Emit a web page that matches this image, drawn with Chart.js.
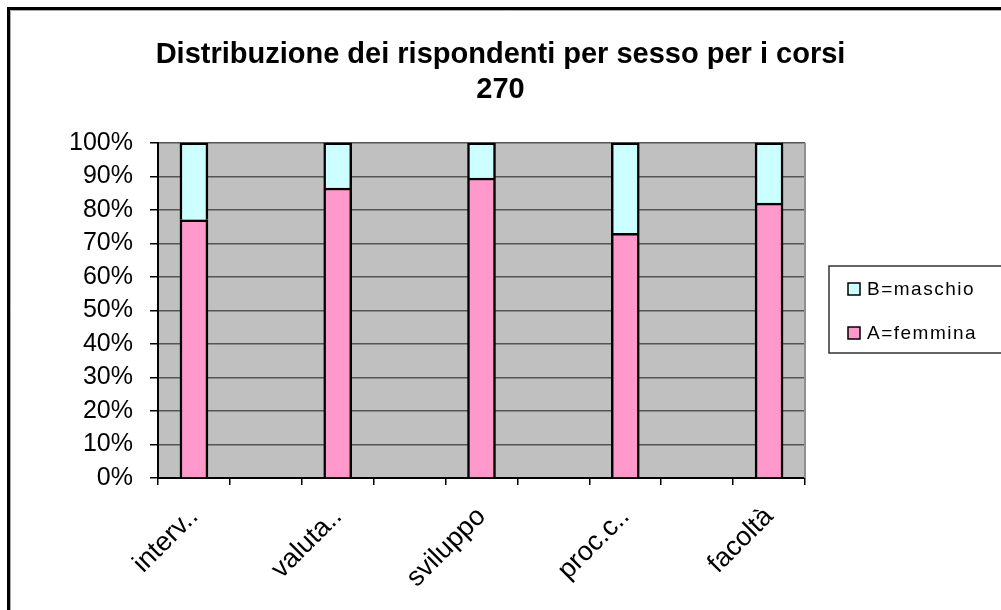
<!DOCTYPE html>
<html>
<head>
<meta charset="utf-8">
<script src="https://cdn.jsdelivr.net/npm/chart.js@4"></script>
<style>
  html, body { margin: 0; background: #fff; }
  #wrap { position: relative; width: 1001px; height: 610px; }
</style>
</head>
<body>
<div id="wrap"><canvas id="myChart"></canvas></div>
<script>
// data (percent of respondents)
const categories = ['interv..', '', 'valuta..', '', 'sviluppo', '', 'proc.c..', '', 'facoltà'];
const femmina = [77, null, 86.5, null, 89.5, null, 73, null, 82];
const maschio = [23, null, 13.5, null, 10.5, null, 27, null, 18];
const titleLines = ['Distribuzione dei rispondenti per sesso per i corsi', '270'];
const seriesNames = ['A=femmina', 'B=maschio'];
const seriesColors = ['#FF99CC', '#CCFFFF'];

const FONT = "'Liberation Sans', Arial, sans-serif";

// frame, grey plot background and excel-like legend box
const excelLook = {
  id: 'excelLook',
  beforeDraw(chart) {
    const c = chart.ctx, a = chart.chartArea;
    c.save();
    c.fillStyle = '#fff';
    c.fillRect(0, 0, chart.width, chart.height);
    c.fillStyle = '#C0C0C0';
    c.fillRect(a.left, a.top, a.right - a.left, a.bottom - a.top);
    // outer frame (only top and left visible)
    c.strokeStyle = '#000';
    c.lineWidth = 3;
    c.beginPath();
    c.moveTo(8.5, chart.height);
    c.lineTo(8.5, 8.5);
    c.lineTo(chart.width, 8.5);
    c.stroke();
    c.strokeStyle = '#aaa';
    c.lineWidth = 1;
    c.beginPath();
    c.moveTo(10.5, chart.height);
    c.lineTo(10.5, 10.5);
    c.lineTo(chart.width, 10.5);
    c.stroke();
    c.restore();
  },
  beforeDatasetsDraw(chart) {
    const c = chart.ctx, a = chart.chartArea;
    c.save();
    c.strokeStyle = '#909090';
    c.lineWidth = 2;
    c.beginPath();
    c.moveTo(a.right, a.top);
    c.lineTo(a.right, a.bottom);
    c.stroke();
    c.restore();
  },
  afterDraw(chart) {
    const c = chart.ctx, a = chart.chartArea;
    const x0 = a.right + 24, y0 = 266, h = 87;
    c.save();
    c.strokeStyle = '#333';
    c.lineWidth = 1.5;
    c.strokeRect(x0, y0, chart.width - x0 + 5, h);
    c.font = '19px ' + FONT;
    c.letterSpacing = '1.5px';
    c.textBaseline = 'middle';
    const ds = chart.data.datasets.slice().reverse();
    ds.forEach((d, i) => {
      const cy = y0 + 23 + i * 44;
      c.fillStyle = d.backgroundColor;
      c.fillRect(x0 + 19, cy - 6, 12, 12);
      c.strokeStyle = '#000';
      c.lineWidth = 1.5;
      c.strokeRect(x0 + 19, cy - 6, 12, 12);
      c.fillStyle = '#000';
      c.fillText(d.label, x0 + 38, cy + 1);
    });
    c.restore();
  }
};

const ctx = document.getElementById('myChart');

new Chart(ctx, {
  type: 'bar',
  data: {
    labels: categories,
    datasets: [
      {
        label: seriesNames[0],
        data: femmina,
        backgroundColor: seriesColors[0],
        borderColor: '#000',
        borderWidth: 2.5,
        barThickness: 28
      },
      {
        label: seriesNames[1],
        data: maschio,
        backgroundColor: seriesColors[1],
        borderColor: '#000',
        borderWidth: 2.5,
        barThickness: 28
      }
    ]
  },
  options: {
    responsive: true,
    maintainAspectRatio: false,
    animation: false,
    layout: { padding: 0 },
    plugins: {
      legend: { display: false },
      tooltip: { enabled: false },
      title: {
        display: true,
        text: titleLines,
        color: '#000',
        font: { family: FONT, size: 29, weight: 'bold', lineHeight: 1.22 },
        padding: { top: 37, bottom: 35 }
      }
    },
    scales: {
      x: {
        stacked: true,
        afterFit: (scale) => { scale.height = 132; },
        grid: {
          drawOnChartArea: false,
          drawTicks: true,
          tickLength: 7,
          color: '#000',
          lineWidth: 1.5
        },
        border: { color: '#000', width: 2 },
        ticks: {
          autoSkip: false,
          minRotation: 45,
          maxRotation: 45,
          padding: 16,
          color: '#000',
          font: { family: FONT, size: 27 }
        }
      },
      y: {
        stacked: true,
        min: 0,
        max: 100,
        afterFit: (scale) => { scale.width = 158; },
        grid: {
          color: '#555',
          lineWidth: 1.5,
          tickLength: 8,
          tickColor: '#000'
        },
        border: { color: '#000', width: 2 },
        ticks: {
          stepSize: 10,
          padding: 17,
          color: '#000',
          font: { family: FONT, size: 25 },
          callback: (v) => v + '%'
        }
      },
      // empty axis that keeps room on the right for the legend box
      legendSpace: {
        position: 'right',
        afterFit: (scale) => { scale.width = 196; },
        grid: { display: false },
        border: { display: false },
        ticks: { display: false }
      }
    }
  },
  plugins: [excelLook]
});
</script>
</body>
</html>
